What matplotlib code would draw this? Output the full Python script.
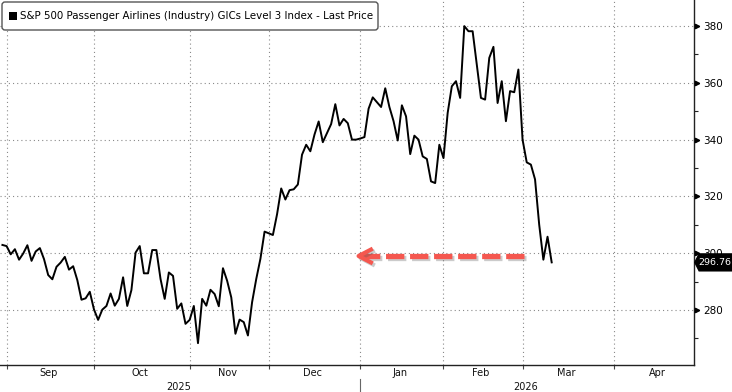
import matplotlib
matplotlib.use("Agg")
import matplotlib.pyplot as plt
import matplotlib.transforms as mtransforms
import matplotlib.patheffects as pe
from matplotlib.patches import Polygon, FancyBboxPatch, Rectangle

plt.rcParams['font.family'] = ['DejaVu Sans']
plt.rcParams['lines.scale_dashes'] = False

# ---------------- data (daily closes, trading-day index) ----------------
prices = [
    302.9, 302.5, 299.6, 301.4, 297.7, 299.9, 302.8, 297.3, 300.6, 301.8,
    297.9, 292.3, 290.8, 295.2, 296.7, 298.7, 294.2, 295.4, 290.5, 283.6,
    284.1, 286.4, 280.2, 276.5, 280.1, 281.4, 285.8, 281.5, 283.9, 291.5,
    281.4, 287.0, 300.2, 302.5, 292.9, 292.9, 301.1, 301.1, 290.9, 283.9,
    293.2, 292.0, 280.4, 282.3, 275.1, 276.5, 281.4, 268.3, 283.9, 281.5,
    287.1, 285.6, 281.3, 294.7, 290.3, 284.4, 271.6, 276.6, 275.7, 271.0,
    282.7, 290.9, 298.0, 307.6, 307.0, 306.4, 313.7, 322.8, 318.9, 322.2,
    322.5, 324.2, 334.7, 338.2, 335.9, 341.8, 346.4, 339.1, 342.3, 345.5,
    352.5, 345.0, 347.3, 345.8, 340.0, 340.0, 340.4, 340.9, 350.9, 354.9,
    353.2, 351.5, 358.1, 351.5, 346.5, 339.7, 352.1, 348.2, 334.9, 341.4,
    340.0, 334.1, 333.2, 325.3, 324.7, 338.2, 333.5, 349.4, 358.8, 360.6,
    354.7, 380.0, 378.2, 378.2, 366.5, 354.7, 354.1, 368.8, 372.7, 352.9,
    360.6, 346.5, 357.1, 356.7, 364.7, 340.0, 332.0, 331.2, 326.0, 310.0,
    297.7, 305.8, 296.76,
]
last_price = 296.76
series_name = "S&P 500 Passenger Airlines (Industry) GICs Level 3 Index - Last Price"

month_labels = ["Sep", "Oct", "Nov", "Dec", "Jan", "Feb", "Mar", "Apr"]
month_start = [1, 22, 45, 64, 86, 106, 125, 147]   # first trading day index of each month
month_after_last = 169
year_labels = ["2025", "2026"]
year_split = 86

y_ticks = [280, 300, 320, 340, 360, 380]
y_minor = [270, 290, 310, 330, 350, 370]

# annotation arrow (red dashed, pointing left)
arrow_level = 299.0
arrow_start = 125.3
arrow_tip = 85.2

# ---------------- figure ----------------
W, H, DPI = 732, 392, 100
fig = plt.figure(figsize=(W / DPI, H / DPI), dpi=DPI)
fig.patch.set_facecolor("white")

ax_l, ax_r, ax_t, ax_b = 0, 694, 0, 365
ax = fig.add_axes([ax_l / W, 1 - ax_b / H, (ax_r - ax_l) / W, (ax_b - ax_t) / H])
ax.set_facecolor("white")
x_lo, x_hi = -0.58, 166.2
ax.set_xlim(x_lo, x_hi)
ax.set_ylim(260.6, 389.2)

ax.plot(range(len(prices)), prices, color="black", lw=1.4,
        solid_joinstyle="round", zorder=3)

for s in ("left", "top"):
    ax.spines[s].set_visible(False)
for s in ("right", "bottom"):
    ax.spines[s].set_color("#222222")
    ax.spines[s].set_linewidth(1.0)

ax.set_xticks(month_start)
ax.set_yticks(y_ticks)
ax.set_yticks(y_minor, minor=True)
ax.grid(True, which="major", color="#8a8a8a", lw=0.8, linestyle=(0, (0.8, 2.2)))

ax.tick_params(axis="x", which="major", direction="out", length=3, width=0.8,
               color="#444444", labelbottom=False)
ax.yaxis.tick_right()
ax.tick_params(axis="y", which="major", length=2, width=0.8, pad=4.5,
               labelsize=7.5, labelright=True, labelleft=False, colors="black")
ax.tick_params(axis="y", which="minor", length=3, width=0.8, color="#222222")

# tick triangles on the right axis
ax.plot([1.0045] * len(y_ticks), y_ticks, marker=">", ms=3.2, color="black",
        ls="none", transform=ax.get_yaxis_transform(), clip_on=False, zorder=5)

# month and year labels
trans_xfig = mtransforms.blended_transform_factory(ax.transData, fig.transFigure)
bounds = month_start + [month_after_last]
for i, lab in enumerate(month_labels):
    mid = (bounds[i] + bounds[i + 1] - 1) / 2
    ax.text(mid, 1 - 373.5 / H, lab, ha="center", va="center", fontsize=7,
            transform=trans_xfig, clip_on=False, color="#111111")
year_centers = [(x_lo + year_split - 0.5) / 2, (year_split - 0.5 + x_hi) / 2]
for xc, lab in zip(year_centers, year_labels):
    ax.text(xc, 1 - 386.5 / H, lab, ha="center", va="center", fontsize=7,
            transform=trans_xfig, clip_on=False, color="#111111")
ax.plot([year_split, year_split], [1 - 379 / H, 1 - 392 / H], color="#666666",
        lw=0.8, transform=trans_xfig, clip_on=False)

# red dashed arrow
red = "#f5574f"
shadow = [pe.SimpleLineShadow(offset=(1.5, -1.5), shadow_color="#555555", alpha=0.3),
          pe.Normal()]
ax.plot([arrow_start, arrow_tip + 0.5], [arrow_level, arrow_level], color=red,
        lw=3.8, linestyle=(0, (13.2, 4.1)), dash_capstyle="butt",
        path_effects=shadow, zorder=4)
ax.plot([arrow_tip + 3.8, arrow_tip + 0.4, arrow_tip + 3.8],
        [arrow_level + 2.6, arrow_level, arrow_level - 2.6], color=red, lw=3.0,
        solid_joinstyle="round", solid_capstyle="butt", path_effects=shadow, zorder=4)

# legend box
ident = mtransforms.IdentityTransform()
fig.patches.append(FancyBboxPatch((2, H - 30), 376, 28,
                                  boxstyle="round,pad=0,rounding_size=3",
                                  transform=ident, facecolor="white",
                                  edgecolor="#555555", lw=1.0, figure=fig, zorder=6))
fig.patches.append(Rectangle((9, H - 20), 8, 8, transform=ident, facecolor="black",
                             edgecolor="none", figure=fig, zorder=7))
t = fig.text(20 / W, 1 - 16 / H, series_name, ha="left", va="center",
             fontsize=7.2, color="black", zorder=8)
renderer = fig.canvas.get_renderer()
bb = t.get_window_extent(renderer)
t.set_fontsize(7.2 * 353 / bb.width)

# last price tag
tag_tr = mtransforms.Affine2D().scale(DPI / 72.0) + \
    mtransforms.ScaledTranslation(1.0, last_price, ax.get_yaxis_transform())
tag = Polygon([(0, 0), (3.4, 6.6), (28.8, 6.6), (28.8, -6.6), (3.4, -6.6)],
              closed=True, facecolor="black", edgecolor="none", transform=tag_tr,
              zorder=10, clip_on=False)
ax.add_artist(tag)
ax.annotate(f"{last_price:.2f}", xy=(1.0, last_price),
            xycoords=ax.get_yaxis_transform(), xytext=(3.3, -0.3),
            textcoords="offset points", color="white", va="center", ha="left",
            fontsize=6.8, annotation_clip=False, zorder=11)

fig.savefig("out.png", dpi=DPI)
